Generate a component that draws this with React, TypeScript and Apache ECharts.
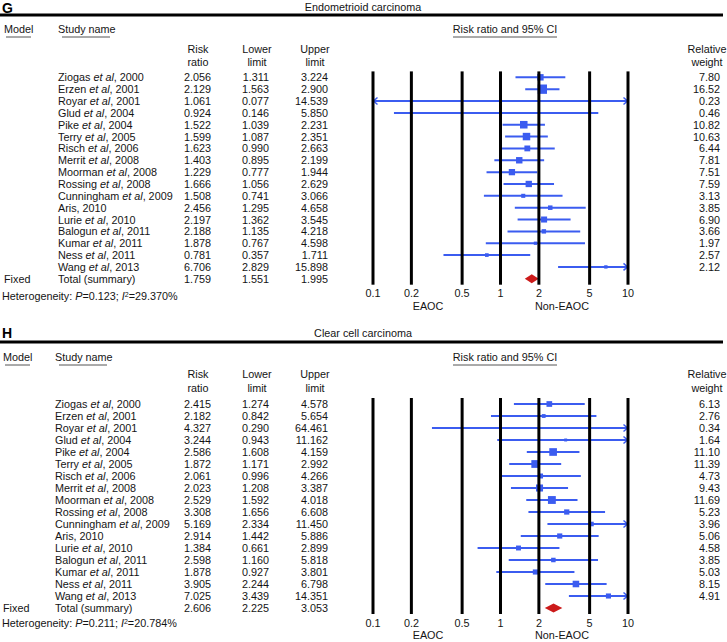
import React, { useEffect, useRef } from "react";
import * as echarts from "echarts";

const FONT = "'Liberation Sans', Arial, Helvetica, sans-serif";
const INK = "#141414";
const BLUE = "#3b5cf0";
const RED = "#cc1a1a";
const FS = 10.8;

// ---------- data ----------
const studies = [
  "Ziogas et al, 2000",
  "Erzen et al, 2001",
  "Royar et al, 2001",
  "Glud et al, 2004",
  "Pike et al, 2004",
  "Terry et al, 2005",
  "Risch et al, 2006",
  "Merrit et al, 2008",
  "Moorman et al, 2008",
  "Rossing et al, 2008",
  "Cunningham et al, 2009",
  "Aris, 2010",
  "Lurie et al, 2010",
  "Balogun et al, 2011",
  "Kumar et al, 2011",
  "Ness et al, 2011",
  "Wang et al, 2013",
];

const rrG = [2.056, 2.129, 1.061, 0.924, 1.522, 1.599, 1.623, 1.403, 1.229, 1.666, 1.508, 2.456, 2.197, 2.188, 1.878, 0.781, 6.706];
const lowerG = [1.311, 1.563, 0.077, 0.146, 1.039, 1.087, 0.99, 0.895, 0.777, 1.056, 0.741, 1.295, 1.362, 1.135, 0.767, 0.357, 2.829];
const upperG = [3.224, 2.9, 14.539, 5.85, 2.231, 2.351, 2.663, 2.199, 1.944, 2.629, 3.066, 4.658, 3.545, 4.218, 4.598, 1.711, 15.898];
const weightG = [7.8, 16.52, 0.23, 0.46, 10.82, 10.63, 6.44, 7.81, 7.51, 7.59, 3.13, 3.85, 6.9, 3.66, 1.97, 2.57, 2.12];
const totalG = [1.759, 1.551, 1.995];
const hetG = ["0.123", "29.370"];

const rrH = [2.415, 2.182, 4.327, 3.244, 2.586, 1.872, 2.061, 2.023, 2.529, 3.308, 5.169, 2.914, 1.384, 2.598, 1.878, 3.905, 7.025];
const lowerH = [1.274, 0.842, 0.29, 0.943, 1.608, 1.171, 0.996, 1.208, 1.592, 1.656, 2.334, 1.442, 0.661, 1.16, 0.927, 2.244, 3.439];
const upperH = [4.578, 5.654, 64.461, 11.162, 4.159, 2.992, 4.266, 3.387, 4.018, 6.608, 11.45, 5.886, 2.899, 5.818, 3.801, 6.798, 14.351];
const weightH = [6.13, 2.76, 0.34, 1.64, 11.1, 11.39, 4.73, 9.43, 11.69, 5.23, 3.96, 5.06, 4.58, 3.85, 5.03, 8.15, 4.91];
const totalH = [2.606, 2.225, 3.053];
const hetH = ["0.211", "20.784"];

const ticks = [0.1, 0.2, 0.5, 1, 2, 5, 10];
const XMIN = 0.1;
const XMAX = 10;

// ---------- layout ----------
type Layout = {
  letter: string; title: string; letterY: number; ruleY: number; headY: number; ulY: number;
  h1: number; h2: number; top: number; height: number; hetY: number; xnameY: number;
  modelX: number; nameX: number;
};
const layouts: Layout[] = [
  { letter: "G", title: "Endometrioid carcinoma", letterY: 7.5, ruleY: 15, headY: 29, ulY: 37, h1: 49, h2: 62, top: 71.4, height: 213.3, hetY: 296, xnameY: 306, modelX: 4, nameX: 58 },
  { letter: "H", title: "Clear cell carcinoma", letterY: 333, ruleY: 342, headY: 357, ulY: 365, h1: 374, h2: 388, top: 398, height: 216, hetY: 623, xnameY: 635, modelX: 3, nameX: 55 },
];
const COL_RR = 211, COL_LO = 269, COL_HI = 328, COL_W = 720;

const baseText = (extra: any = {}) => ({
  fontSize: FS, fontFamily: FONT, fill: INK,
  align: "left", textAlign: "left", verticalAlign: "middle", textVerticalAlign: "middle",
  ...extra,
});
const T = (x: number, y: number, text: string, align = "left", extra: any = {}) => ({
  type: "text", x, y, silent: true,
  style: baseText({ text, align, textAlign: align, ...extra }),
});
const italicRich = {
  i: { fontStyle: "italic", fontSize: FS, fontFamily: FONT, fill: INK },
  s: { fontSize: 7, fontFamily: FONT, fill: INK, verticalAlign: "top", lineHeight: 7, padding: [0, 0, 5, 0] },
  n: { fontSize: FS, fontFamily: FONT, fill: INK },
};

function buildPanel(pi: number, L: Layout, rr: number[], lo: number[], hi: number[], w: number[], total: number[], het: string[]) {
  const n = rr.length;
  const common = { type: "custom", xAxisIndex: pi, yAxisIndex: pi, clip: false, encode: { x: 0, y: 1 } };

  const vlines = {
    ...common, z: 4,
    data: ticks.map((t) => [t, -0.5]),
    renderItem: (_p: any, api: any) => {
      const v = api.value(0);
      const a = api.coord([v, -0.5]);
      const b = api.coord([v, 17.5]);
      return {
        type: "group",
        children: [
          { type: "line", shape: { x1: a[0], y1: a[1], x2: a[0], y2: b[1] }, style: { stroke: "#000", lineWidth: 3 } },
          T(a[0], b[1] + 8.5, String(v), "center"),
        ],
      };
    },
  };

  const ci = {
    ...common, z: 3,
    data: rr.map((v, i) => [v, i, lo[i], hi[i], w[i]]),
    renderItem: (_p: any, api: any) => {
      const v = api.value(0), row = api.value(1), l = api.value(2), h = api.value(3), wt = api.value(4);
      const a = api.coord([Math.max(l, XMIN), row]);
      const b = api.coord([Math.min(h, XMAX), row]);
      const c = api.coord([v, row]);
      const s = Math.max(1.2, 2.3 * Math.sqrt(wt));
      const children: any[] = [
        { type: "line", shape: { x1: a[0], y1: a[1], x2: b[0], y2: b[1] }, style: { stroke: BLUE, lineWidth: 2 } },
        { type: "rect", shape: { x: c[0] - s / 2, y: c[1] - s / 2, width: s, height: s }, style: { fill: BLUE } },
      ];
      if (l < XMIN) children.push({ type: "polyline", shape: { points: [[a[0] + 4.5, a[1] - 3.5], [a[0] + 0.5, a[1]], [a[0] + 4.5, a[1] + 3.5]] }, style: { stroke: BLUE, lineWidth: 1.5, fill: "none" } });
      if (h > XMAX) children.push({ type: "polyline", shape: { points: [[b[0] - 4.5, b[1] - 3.5], [b[0] - 0.5, b[1]], [b[0] - 4.5, b[1] + 3.5]] }, style: { stroke: BLUE, lineWidth: 1.5, fill: "none" } });
      return { type: "group", children };
    },
  };

  const diamond = {
    ...common, z: 3,
    data: [[total[0], 17, total[1], total[2]]],
    renderItem: (_p: any, api: any) => {
      const row = api.value(1);
      const c = api.coord([api.value(0), row]);
      const a = api.coord([api.value(2), row]);
      const b = api.coord([api.value(3), row]);
      return {
        type: "polygon",
        shape: { points: [[a[0], a[1]], [c[0], c[1] - 4.5], [b[0], b[1]], [c[0], c[1] + 4.5]] },
        style: { fill: RED },
      };
    },
  };

  const table = {
    ...common, z: 2,
    data: [...rr.map((_, i) => [1, i]), [1, 17]],
    renderItem: (p: any, api: any) => {
      const i = p.dataIndex;
      const y = api.coord([1, api.value(1)])[1];
      const children: any[] = [];
      if (i < n) {
        const name = studies[i].replace("et al", "{i|et al}");
        children.push({ type: "text", x: L.nameX, y, silent: true, style: baseText({ text: name, rich: italicRich }) });
        children.push(T(COL_RR, y, rr[i].toFixed(3), "right"));
        children.push(T(COL_LO, y, lo[i].toFixed(3), "right"));
        children.push(T(COL_HI, y, hi[i].toFixed(3), "right"));
        children.push(T(COL_W, y, w[i].toFixed(2), "right"));
      } else {
        children.push(T(L.modelX, y, "Fixed"));
        children.push(T(L.nameX, y, "Total (summary)"));
        children.push(T(COL_RR, y, total[0].toFixed(3), "right"));
        children.push(T(COL_LO, y, total[1].toFixed(3), "right"));
        children.push(T(COL_HI, y, total[2].toFixed(3), "right"));
      }
      return { type: "group", children };
    },
  };

  const ul = (x1: number, x2: number, y: number) => ({
    type: "line", silent: true, shape: { x1, y1: y, x2, y2: y }, style: { stroke: "#555", lineWidth: 1 },
  });

  const graphics: any[] = [
    T(2, L.letterY, L.letter, "left", { fontSize: 14, fontWeight: "bold", fill: "#000" }),
    T(363, L.letterY - 0.5, L.title, "center"),
    { type: "rect", silent: true, shape: { x: 0, y: L.ruleY - 1.5, width: 723, height: 3 }, style: { fill: "#000" } },
    T(L.modelX, L.headY, "Model"),
    ul(L.modelX + 2, L.modelX + 27, L.ulY),
    T(L.nameX, L.headY, "Study name"),
    ul(L.nameX + 4, L.nameX + 52, L.ulY),
    T(505, L.headY, "Risk ratio and 95% CI", "center"),
    ul(453, 557, L.ulY),
    T(198, L.h1, "Risk", "center"),
    T(198, L.h2, "ratio", "center"),
    T(257, L.h1, "Lower", "center"),
    T(257, L.h2, "limit", "center"),
    T(315, L.h1, "Upper", "center"),
    T(315, L.h2, "limit", "center"),
    T(707, L.h1, "Relative", "center"),
    T(707, L.h2, "weight", "center"),
    {
      type: "text", x: 2, y: L.hetY, silent: true,
      style: baseText({ text: "Heterogeneity: {i|P}{n|=" + het[0] + "; }{i|I}{s|2}{n|=" + het[1] + "%}", rich: italicRich }),
    },
    T(428, L.xnameY, "EAOC", "center"),
    T(562, L.xnameY, "Non-EAOC", "center"),
  ];

  return {
    grid: { left: 373, width: 255, top: L.top, height: L.height, containLabel: false },
    xAxis: { type: "log", logBase: 10, min: XMIN, max: XMAX, gridIndex: pi, show: false },
    yAxis: { type: "value", min: -0.5, max: 17.5, inverse: true, gridIndex: pi, show: false },
    series: [table, ci, diamond, vlines],
    graphics,
  };
}

function buildOption() {
  const g = buildPanel(0, layouts[0], rrG, lowerG, upperG, weightG, totalG, hetG);
  const h = buildPanel(1, layouts[1], rrH, lowerH, upperH, weightH, totalH, hetH);
  return {
    animation: false,
    backgroundColor: "#ffffff",
    grid: [g.grid, h.grid],
    xAxis: [g.xAxis, h.xAxis],
    yAxis: [g.yAxis, h.yAxis],
    series: [...g.series, ...h.series],
    graphic: { elements: [...g.graphics, ...h.graphics] },
  };
}

export default function App() {
  const ref = useRef<HTMLDivElement>(null);
  useEffect(() => {
    const chart = echarts.init(ref.current!, null, { renderer: "svg" });
    chart.setOption(buildOption() as any);
    return () => chart.dispose();
  }, []);
  return (
    <div
      ref={ref}
      style={{ position: "absolute", left: 0, top: 0, width: 727, height: 642, background: "#fff" }}
    />
  );
}
